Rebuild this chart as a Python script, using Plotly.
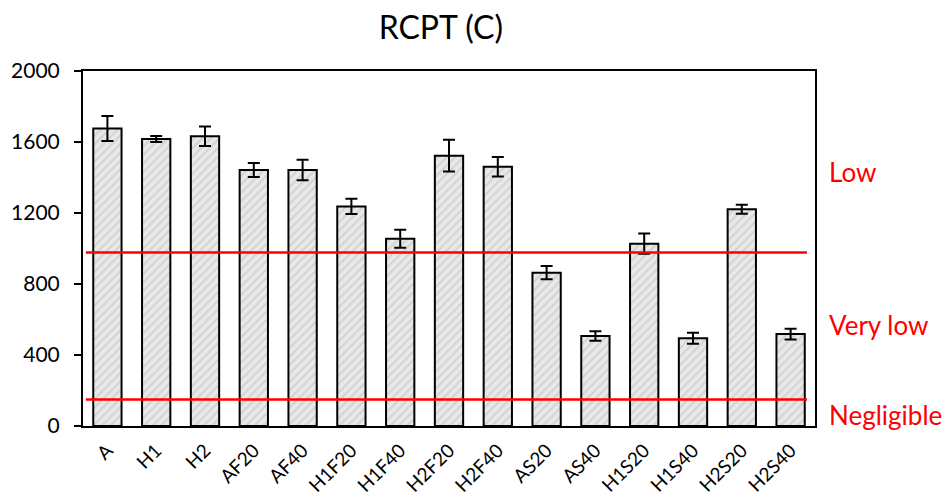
import plotly.graph_objects as go

categories = ["A", "H1", "H2", "AF20", "AF40", "H1F20", "H1F40", "H2F20", "H2F40",
              "AS20", "AS40", "H1S20", "H1S40", "H2S20", "H2S40"]
values = [1676, 1617, 1632, 1442, 1442, 1237, 1055, 1523, 1461, 864, 507, 1027, 494, 1221, 518]
errors = [70, 17, 55, 39, 58, 43, 51, 89, 55, 37, 27, 57, 31, 25, 30]

thresholds = [978, 150]
zone_labels = ["Low", "Very low", "Negligible"]
zone_label_y = [1431, 569, 62]

FONT = "Lato"

fig = go.Figure()
fig.add_trace(go.Bar(
    x=categories, y=values,
    width=0.58,
    marker=dict(
        color="#e4e4e4",
        line=dict(color="black", width=2),
        pattern=dict(shape="/", fgcolor="#bdbdbd", bgcolor="#e8e8e8", size=6, solidity=0.35),
    ),
    error_y=dict(type="data", array=errors, visible=True, color="black", thickness=2, width=6),
))

for t in thresholds:
    fig.add_shape(type="line", xref="paper", yref="y", x0=0.004, x1=0.989, y0=t, y1=t,
                  line=dict(color="#ff0000", width=2.5), layer="above")

for lab, yy in zip(zone_labels, zone_label_y):
    fig.add_annotation(text=lab, xref="paper", yref="y", x=1.016, y=yy, xanchor="left",
                       yanchor="middle", showarrow=False,
                       font=dict(family=FONT, size=26, color="#ff0000"))

fig.update_layout(
    width=948, height=502,
    margin=dict(l=83, r=133, t=71, b=76),
    paper_bgcolor="white", plot_bgcolor="white",
    title=dict(text="RCPT (C)", x=0.465, xanchor="center", y=0.945, yanchor="middle",
               font=dict(family=FONT, size=32, color="black")),
    font=dict(family=FONT, size=18, color="black"),
    showlegend=False,
    bargap=0.4,
)
fig.update_xaxes(showline=True, linecolor="black", linewidth=2, mirror=True,
                 tickangle=-45, ticks="", ticklabelstandoff=4, automargin=False,
                 tickfont=dict(family=FONT, size=19))
fig.update_yaxes(range=[0, 2000], tickvals=[0, 400, 800, 1200, 1600, 2000],
                 showline=True, linecolor="black", linewidth=2, mirror=True,
                 ticks="outside", ticklen=7, tickwidth=2, tickcolor="black",
                 ticklabelstandoff=10, automargin=False,
                 showgrid=False, zeroline=False, tickfont=dict(family=FONT, size=21))

fig.write_html("out.html")
